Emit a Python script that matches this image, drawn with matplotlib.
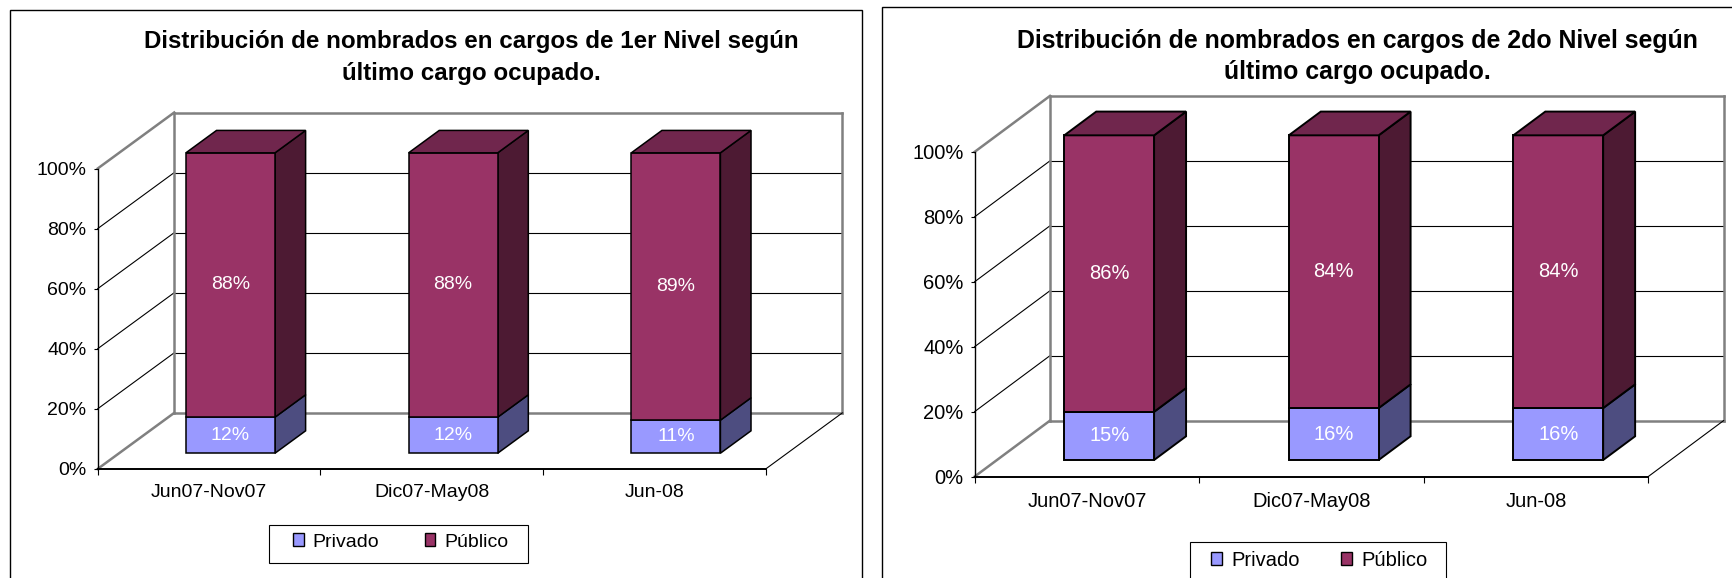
import matplotlib
matplotlib.use("Agg")
import matplotlib.pyplot as plt
from matplotlib.patches import Polygon, Patch, Rectangle

plt.rcParams['font.family'] = ['Liberation Sans', 'DejaVu Sans']

W, H = 1733, 578

periods = ['Jun07-Nov07', 'Dic07-May08', 'Jun-08']
series_names = ['Privado', 'Público']
y_ticks = [0, 20, 40, 60, 80, 100]

privado_1 = [12, 12, 11]
publico_1 = [88, 88, 89]
privado_2 = [15, 16, 16]
publico_2 = [86, 84, 84]

title_1 = 'Distribución de nombrados en cargos de 1er Nivel según\núltimo cargo ocupado.'
title_2 = 'Distribución de nombrados en cargos de 2do Nivel según\núltimo cargo ocupado.'

front_colors = ['#9999FF', '#993366']
side_colors = ['#4D4D80', '#4D1A33']
top_colors = ['#73738F', '#70264D']
WALL = '#808080'

fig = plt.figure(figsize=(W / 100, H / 100), dpi=100, facecolor='white')


def fig_rect(x0, y0, x1, y1, **kw):
    # pixel box, y measured from the top of the image
    r = Rectangle((x0 / W, 1 - y1 / H), (x1 - x0) / W, (y1 - y0) / H,
                  transform=fig.transFigure, fill=False, **kw)
    fig.add_artist(r)


def draw_chart(privado, publico, title, frame, front, depth, z_range, title_pos, title_fs,
               title_spacing, legend_box, legend_pos, column_gap, edge_lw, fs):
    # front = (x0, x1, y_top, y_bottom) of the front plane in pixels
    fx0, fx1, fy_top, fy_bot = front
    fig_rect(*frame, edgecolor='black', linewidth=1.0)

    ax = fig.add_axes([fx0 / W, 1 - fy_bot / H, (fx1 - fx0) / W, (fy_bot - fy_top) / H])
    ax.patch.set_alpha(0)
    ax.set_xlim(0, 3)
    ax.set_ylim(0, 100)

    # depth of the box in data units
    dx = depth[0] / ((fx1 - fx0) / 3)
    dy = depth[1] / ((fy_bot - fy_top) / 100)

    def proj(x, y, z):
        return x + z * dx, y + z * dy

    # walls and floor
    for v in y_ticks:
        back_a = proj(0, v, 1)
        back_b = proj(3, v, 1)
        color = WALL if v in (0, 100) else 'black'
        lw = 1.8 if v in (0, 100) else 0.8
        ax.plot([0, back_a[0]], [v, back_a[1]], color=color, lw=lw, clip_on=False, zorder=1)
        ax.plot([back_a[0], back_b[0]], [back_a[1], back_b[1]], color=color, lw=lw, clip_on=False, zorder=1)
    back_l = proj(0, 0, 1)
    back_r = proj(3, 0, 1)
    top_l = proj(0, 100, 1)
    top_r = proj(3, 100, 1)
    ax.plot([back_l[0], top_l[0]], [back_l[1], top_l[1]], color=WALL, lw=1.8, clip_on=False, zorder=1)
    ax.plot([back_r[0], top_r[0]], [back_r[1], top_r[1]], color=WALL, lw=1.8, clip_on=False, zorder=1)
    ax.plot([3, back_r[0]], [0, back_r[1]], color='black', lw=0.8, clip_on=False, zorder=1)

    # bars
    z0, z1 = z_range
    bar_w = 0.40
    for i in range(len(periods)):
        total = privado[i] + publico[i]
        xa = i + 0.5 - bar_w / 2
        xb = i + 0.5 + bar_w / 2
        base = 0
        for k, val in enumerate([privado[i], publico[i]]):
            h = val / total * 100
            low, high = base, base + h
            faces = [
                ([proj(xb, low, z0), proj(xb, low, z1), proj(xb, high, z1), proj(xb, high, z0)], side_colors[k]),
                ([proj(xa, low, z0), proj(xb, low, z0), proj(xb, high, z0), proj(xa, high, z0)], front_colors[k]),
            ]
            if k == 1:
                faces.append(([proj(xa, high, z0), proj(xb, high, z0), proj(xb, high, z1), proj(xa, high, z1)], top_colors[k]))
            for pts, col in faces:
                ax.add_patch(Polygon(pts, closed=True, facecolor=col, edgecolor='black',
                                     linewidth=edge_lw, clip_on=False, zorder=3))
            lx, ly = proj(i + 0.5, (low + high) / 2, z0)
            ax.text(lx, ly, f'{val}%', color='white', fontsize=fs, ha='center', va='center',
                    zorder=4, clip_on=False)
            base = high

    # axes
    for s in ['top', 'right']:
        ax.spines[s].set_visible(False)
    ax.spines['left'].set_linewidth(1.0)
    ax.spines['bottom'].set_linewidth(1.4)
    ax.set_yticks(y_ticks)
    ax.set_yticklabels([f'{v}%' for v in y_ticks], fontsize=fs)
    ax.tick_params(axis='y', length=3, width=0.8, pad=5)
    ax.set_xticks([0, 1, 2, 3])
    ax.set_xticklabels([])
    ax.set_xticks([0.5, 1.5, 2.5], minor=True)
    ax.set_xticklabels(periods, minor=True, fontsize=fs)
    ax.tick_params(axis='x', which='major', length=4, width=0.8)
    ax.tick_params(axis='x', which='minor', length=0, pad=11)

    fig.text(title_pos[0] / W, 1 - title_pos[1] / H, title, fontsize=title_fs, fontweight='bold',
             ha='center', va='center', linespacing=title_spacing)

    # legend
    fig_rect(*legend_box, edgecolor='black', linewidth=0.8)
    handles = [Patch(facecolor=c, edgecolor='black', linewidth=1.0) for c in front_colors]
    fig.legend(handles, series_names, ncol=2, frameon=False, fontsize=fs,
               loc='center', bbox_to_anchor=(legend_pos[0] / W, 1 - legend_pos[1] / H),
               handlelength=0.55, handleheight=0.6, handletextpad=0.45, columnspacing=column_gap)


draw_chart(privado_1, publico_1, title_1,
           frame=(9.5, 10, 862, 600),
           front=(97.7, 765.8, 168.5, 468.9),
           depth=(76.5, 56.0),
           z_range=(0.28, 0.68),
           title_pos=(471.7, 57.5),
           title_fs=17.4,
           title_spacing=1.45,
           legend_box=(269, 524.5, 527.7, 562.5),
           legend_pos=(400.5, 542),
           column_gap=2.35,
           edge_lw=1.1,
           fs=14)

draw_chart(privado_2, publico_2, title_2,
           frame=(882, 7.5, 1760, 600),
           front=(974.6, 1648.2, 151.9, 476.6),
           depth=(75.4, 56.0),
           z_range=(0.296, 0.72),
           title_pos=(1357.6, 56.5),
           title_fs=17.9,
           title_spacing=1.38,
           legend_box=(1189.8, 542, 1445.7, 600),
           legend_pos=(1319.5, 560),
           column_gap=2.05,
           edge_lw=1.4,
           fs=14.5)

fig.savefig('out.png', dpi=100)
